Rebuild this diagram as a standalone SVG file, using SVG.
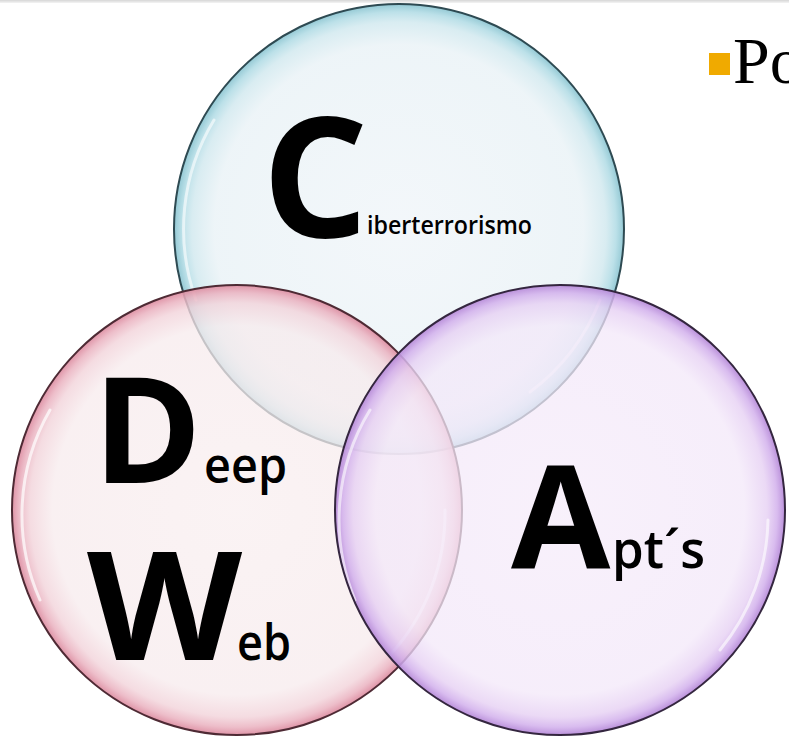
<svg xmlns="http://www.w3.org/2000/svg" width="789" height="741" viewBox="0 0 789 741">
<style>
.big{font-family:"Open Sans","Noto Sans","DejaVu Sans",sans-serif;font-weight:700;fill:#000}
.small{font-family:"Open Sans","Noto Sans","DejaVu Sans",sans-serif;font-weight:600;fill:#000}
.rim{fill:none;stroke-width:2}
.hl{fill:none;stroke:#fff;stroke-linecap:round}
</style>
<defs>
<linearGradient id="topbar" x1="0" y1="0" x2="0" y2="1">
<stop offset="0" stop-color="#d6d6d6"/><stop offset="1" stop-color="#f4f4f4"/>
</linearGradient>
<radialGradient id="gBlue" cx="0.5" cy="0.5" r="0.5">
<stop offset="0" stop-color="#f0f5f9" stop-opacity="0.8"/>
<stop offset="0.82" stop-color="#e9f2f6" stop-opacity="0.8"/>
<stop offset="0.92" stop-color="#d2e9ef" stop-opacity="0.85"/>
<stop offset="0.965" stop-color="#b4dde6" stop-opacity="0.9"/>
<stop offset="1" stop-color="#8ec6d2" stop-opacity="0.95"/>
</radialGradient>
<radialGradient id="gPink" cx="0.5" cy="0.5" r="0.5">
<stop offset="0" stop-color="#f9eff0" stop-opacity="0.75"/>
<stop offset="0.82" stop-color="#f7ebed" stop-opacity="0.75"/>
<stop offset="0.92" stop-color="#f2d3da" stop-opacity="0.8"/>
<stop offset="0.965" stop-color="#eab2c0" stop-opacity="0.85"/>
<stop offset="1" stop-color="#dd8ea2" stop-opacity="0.95"/>
</radialGradient>
<radialGradient id="gPurple" cx="0.5" cy="0.5" r="0.5">
<stop offset="0" stop-color="#f6ecfa" stop-opacity="0.75"/>
<stop offset="0.82" stop-color="#f3e8f9" stop-opacity="0.75"/>
<stop offset="0.92" stop-color="#e6d0f3" stop-opacity="0.8"/>
<stop offset="0.965" stop-color="#d2b0ec" stop-opacity="0.85"/>
<stop offset="1" stop-color="#b68ad8" stop-opacity="0.95"/>
</radialGradient>
</defs>
<rect x="0" y="0" width="789" height="741" fill="#fff"/>
<rect x="0" y="0" width="789" height="3" fill="url(#topbar)"/>

<g id="node-ciberterrorismo">
<circle cx="399" cy="229" r="225" fill="url(#gBlue)"/>
<path class="hl" d="M 196 300 A 210 210 0 0 1 214 120" stroke-width="3" opacity="0.6"/>
<path class="hl" d="M 530 392 A 210 210 0 0 0 600 300" stroke-width="3" opacity="0.6"/>
<circle class="rim" cx="399" cy="229" r="225" stroke="#2e4a52"/>
</g>

<g id="node-deep-web">
<circle cx="237" cy="510" r="225" fill="url(#gPink)"/>
<path class="hl" d="M 40 600 A 210 210 0 0 1 50 410" stroke-width="3" opacity="0.7"/>
<path class="hl" d="M 390 655 A 210 210 0 0 0 445 510" stroke-width="3" opacity="0.6"/>
<circle class="rim" cx="237" cy="510" r="225" stroke="#4e2a34"/>
</g>

<g id="node-apts">
<circle cx="560" cy="510" r="225" fill="url(#gPurple)"/>
<path class="hl" d="M 355 600 A 210 210 0 0 1 370 410" stroke-width="3" opacity="0.6"/>
<path class="hl" d="M 720 650 A 210 210 0 0 0 768 520" stroke-width="3" opacity="0.6"/>
<circle class="rim" cx="560" cy="510" r="225" stroke="#34263f"/>
</g>

<g id="label-ciberterrorismo">
<text class="big" x="262" y="237" font-size="167">C</text>
<text class="small" x="367" y="234" font-size="25" textLength="165" lengthAdjust="spacingAndGlyphs">iberterrorismo</text>
</g>
<g id="label-deep-web">
<text class="big" x="93" y="483" font-size="147">D</text>
<text class="small" x="204" y="483" font-size="49" textLength="83" lengthAdjust="spacingAndGlyphs">eep</text>
<text class="big" transform="translate(87,660) scale(1.07,1)" x="0" y="0" font-size="150">W</text>
<text class="small" x="237" y="660" font-size="50" textLength="54" lengthAdjust="spacingAndGlyphs">eb</text>
</g>
<g id="label-apts">
<text class="big" x="511" y="568" font-size="144">A</text>
<text class="small" x="612" y="568" font-size="53" textLength="93" lengthAdjust="spacingAndGlyphs">pt´s</text>
</g>

<g id="bullet">
<rect x="709" y="53" width="21" height="22" fill="#f0aa00"/>
<text x="733" y="83" font-family="'Liberation Serif','Times New Roman',serif" font-size="66" fill="#000">Po</text>
</g>
</svg>
